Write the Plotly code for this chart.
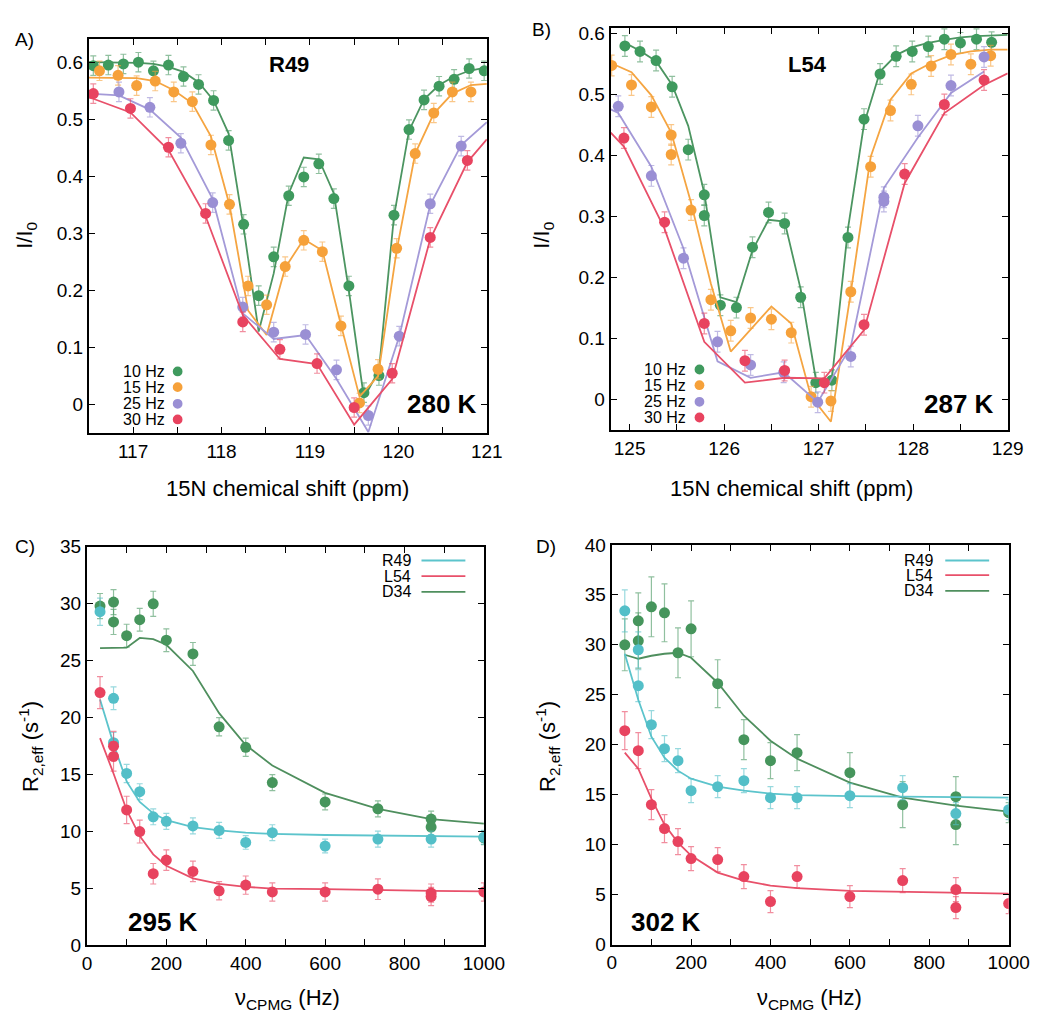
import plotly.graph_objects as go

# ---------------- Panel A: R49, 280 K (I/I0 vs 15N offset) ----------------
A_g_x = [116.55, 116.72, 116.89, 117.06, 117.23, 117.40, 117.57, 117.74, 117.91, 118.08, 118.25, 118.42, 118.59, 118.76,
         118.93, 119.10, 119.27, 119.44, 119.61, 119.78, 119.95, 120.12, 120.29, 120.46, 120.63, 120.80, 120.97]
A_g_y = [0.594, 0.595, 0.597, 0.600, 0.585, 0.595, 0.575, 0.561, 0.533, 0.463, 0.316, 0.191, 0.259, 0.366,
         0.399, 0.422, 0.361, 0.208, 0.021, 0.051, 0.332, 0.482, 0.534, 0.558, 0.570, 0.589, 0.585]
A_g_fx = [116.5] + A_g_x + [121.0]
A_g_fy = [0.600, 0.600, 0.600, 0.600, 0.599, 0.597, 0.592, 0.583, 0.565, 0.533, 0.475, 0.31, 0.128, 0.23, 0.37,
          0.433, 0.430, 0.37, 0.20, 0.012, 0.06, 0.33, 0.48, 0.535, 0.56, 0.575, 0.585, 0.59, 0.59]

A_o_x = [116.62, 116.83, 117.04, 117.25, 117.46, 117.67, 117.88, 118.09, 118.30, 118.51, 118.72, 118.93, 119.14,
         119.35, 119.56, 119.77, 119.98, 120.19, 120.40, 120.61, 120.82]
A_o_y = [0.585, 0.577, 0.559, 0.567, 0.548, 0.531, 0.455, 0.351, 0.208, 0.175, 0.242, 0.288, 0.268,
         0.138, 0.003, 0.062, 0.274, 0.440, 0.511, 0.548, 0.548]
A_o_fx = [116.5] + A_o_x + [121.0]
A_o_fy = [0.573, 0.573, 0.573, 0.572, 0.567, 0.551, 0.528, 0.47, 0.35, 0.165, 0.122, 0.24, 0.29, 0.27,
          0.14, 0.014, 0.05, 0.27, 0.44, 0.51, 0.545, 0.56, 0.562]

A_p_x = [116.84, 117.19, 117.54, 117.90, 118.24, 118.59, 118.95, 119.30, 119.66, 120.01, 120.36, 120.71]
A_p_y = [0.548, 0.521, 0.458, 0.354, 0.171, 0.127, 0.123, 0.061, -0.019, 0.120, 0.352, 0.453]
A_p_fx = [116.5] + A_p_x + [121.0]
A_p_fy = [0.545, 0.542, 0.517, 0.468, 0.36, 0.16, 0.115, 0.122, 0.045, -0.048, 0.12, 0.35, 0.455, 0.495]

A_r_x = [116.55, 116.97, 117.40, 117.82, 118.24, 118.66, 119.08, 119.50, 119.93, 120.36, 120.78]
A_r_y = [0.545, 0.519, 0.451, 0.335, 0.145, 0.097, 0.072, -0.005, 0.055, 0.293, 0.428]
A_r_fx = [116.5] + A_r_x + [121.0]
A_r_fy = [0.538, 0.536, 0.512, 0.446, 0.33, 0.157, 0.08, 0.071, -0.035, 0.045, 0.29, 0.425, 0.465]

# ---------------- Panel B: L54, 287 K ----------------
B_g_x = [124.95, 125.11, 125.28, 125.45, 125.62, 125.79, 125.79, 125.96, 126.13, 126.30, 126.47, 126.64, 126.81,
         126.97, 127.14, 127.31, 127.48, 127.65, 127.82, 127.99, 128.16, 128.33, 128.50, 128.67, 128.83]
B_g_y = [0.580, 0.571, 0.556, 0.513, 0.410, 0.336, 0.302, 0.155, 0.151, 0.250, 0.307, 0.289, 0.168,
         0.028, 0.032, 0.266, 0.460, 0.534, 0.563, 0.571, 0.579, 0.591, 0.585, 0.591, 0.586]
B_g_fx = [124.95, 125.11, 125.28, 125.45, 125.62, 125.79, 125.96, 126.13, 126.30, 126.47, 126.64, 126.81, 126.97,
          127.14, 127.31, 127.48, 127.65, 127.82, 127.99, 128.16, 128.33, 128.50, 128.67, 128.83, 129.0]
B_g_fy = [0.585, 0.572, 0.555, 0.516, 0.449, 0.339, 0.168, 0.16, 0.245, 0.295, 0.292, 0.181, 0.034,
          0.034, 0.28, 0.452, 0.538, 0.565, 0.578, 0.585, 0.59, 0.594, 0.596, 0.597, 0.598]

B_o_x = [124.81, 125.02, 125.23, 125.44, 125.44, 125.65, 125.86, 126.07, 126.28, 126.50, 126.71, 126.92, 127.13,
         127.34, 127.55, 127.76, 127.98, 128.19, 128.40, 128.61, 128.82]
B_o_y = [0.548, 0.516, 0.480, 0.434, 0.402, 0.311, 0.164, 0.113, 0.134, 0.132, 0.110, 0.005, -0.002,
         0.177, 0.382, 0.474, 0.517, 0.547, 0.566, 0.550, 0.564]
B_o_fx = [124.8, 125.02, 125.23, 125.44, 125.65, 125.86, 126.07, 126.28, 126.50, 126.71, 126.92, 127.13,
          127.34, 127.55, 127.76, 127.98, 128.19, 128.40, 128.61, 128.82, 129.0]
B_o_fy = [0.552, 0.537, 0.499, 0.438, 0.323, 0.19, 0.079, 0.116, 0.153, 0.125, 0.005, -0.036,
          0.176, 0.398, 0.492, 0.535, 0.552, 0.565, 0.571, 0.574, 0.574]

B_p_x = [124.88, 125.23, 125.57, 125.93, 126.28, 126.63, 126.99, 127.34, 127.69, 127.69, 128.05, 128.40, 128.75]
B_p_y = [0.481, 0.367, 0.232, 0.095, 0.057, 0.045, -0.004, 0.071, 0.332, 0.325, 0.449, 0.515, 0.562]
B_p_fx = [124.8, 124.88, 125.23, 125.57, 125.93, 126.28, 126.63, 126.99, 127.34, 127.69, 128.05, 128.40, 128.75]
B_p_fy = [0.476, 0.47, 0.382, 0.248, 0.063, 0.036, 0.045, -0.004, 0.087, 0.347, 0.43, 0.503, 0.538]

B_r_x = [124.94, 125.37, 125.79, 126.22, 126.64, 127.06, 127.48, 127.91, 128.33, 128.75]
B_r_y = [0.429, 0.291, 0.125, 0.064, 0.048, 0.028, 0.123, 0.370, 0.484, 0.524]
B_r_fx = [124.8, 124.94, 125.37, 125.79, 126.22, 126.64, 127.06, 127.48, 127.91, 128.33, 128.75, 129.0]
B_r_fy = [0.438, 0.415, 0.28, 0.095, 0.028, 0.036, 0.035, 0.114, 0.355, 0.47, 0.516, 0.535]

CEST_ERR = 0.017

# ---------------- Panels C/D: CPMG dispersion ----------------
nu_fit = [33, 67, 100, 133, 167, 200, 267, 333, 400, 467, 600, 733, 867, 1000]

C_D34_x = [33, 67, 67, 100, 133, 167, 200, 267, 333, 400, 467, 600, 733, 867, 867, 1000]
C_D34_y = [29.8, 30.15, 28.4, 27.2, 28.6, 30.0, 26.8, 25.6, 19.2, 17.4, 14.3, 12.6, 12.0, 11.1, 10.4, 9.45]
C_D34_e = [1.1, 1.1, 1.1, 1.0, 1.0, 1.1, 1.0, 1.0, 0.8, 0.8, 0.7, 0.7, 0.7, 0.7, 0.7, 0.6]
C_R49_x = [33, 67, 67, 100, 133, 167, 200, 267, 333, 400, 467, 600, 733, 867, 1000]
C_R49_y = [29.3, 21.7, 17.8, 15.1, 13.5, 11.3, 10.9, 10.5, 10.1, 9.05, 9.9, 8.73, 9.34, 9.34, 9.5]
C_R49_e = [1.2, 1.0, 0.9, 0.8, 0.7, 0.7, 0.7, 0.7, 0.7, 0.6, 0.7, 0.6, 0.7, 0.7, 0.6]
C_L54_x = [33, 67, 67, 100, 133, 167, 200, 267, 333, 400, 467, 600, 733, 867, 867, 1000]
C_L54_y = [22.2, 17.5, 16.6, 11.9, 10.0, 6.3, 7.5, 6.5, 4.8, 5.3, 4.7, 4.7, 4.94, 4.6, 4.3, 4.7]
C_L54_e = [1.4, 1.3, 1.3, 1.2, 1.0, 0.9, 0.9, 0.9, 0.8, 0.8, 0.8, 0.8, 0.9, 0.8, 0.8, 0.8]
C_D34_fit = [26.1, 26.15, 26.15, 27.0, 26.9, 26.4, 24.1, 20.4, 17.6, 15.8, 13.4, 12.0, 11.1, 10.7]
C_R49_fit = [21.6, 17.7, 14.4, 12.6, 11.6, 11.0, 10.4, 10.1, 9.9, 9.8, 9.7, 9.65, 9.6, 9.55]
C_L54_fit = [18.2, 15.1, 11.9, 9.6, 8.0, 7.0, 5.9, 5.4, 5.15, 5.0, 4.95, 4.85, 4.8, 4.75]

D_D34_x = [33, 67, 67, 100, 133, 167, 200, 267, 333, 400, 467, 600, 733, 867, 867, 1000]
D_D34_y = [30.0, 32.4, 30.4, 33.8, 33.2, 29.2, 31.6, 26.1, 20.5, 18.4, 19.2, 17.2, 14.0, 14.8, 12.0, 13.2]
D_D34_e = [2.6, 2.8, 2.8, 3.0, 2.9, 2.5, 2.8, 2.4, 2.0, 1.8, 1.8, 2.0, 2.3, 2.0, 2.0, 1.0]
D_R49_x = [33, 67, 67, 100, 133, 167, 200, 267, 333, 400, 467, 600, 733, 867, 1000]
D_R49_y = [33.4, 29.5, 25.9, 22.0, 19.6, 18.4, 15.4, 15.8, 16.4, 14.7, 14.7, 14.9, 15.7, 13.1, 13.5]
D_R49_e = [2.1, 1.8, 1.6, 1.4, 1.3, 1.2, 1.2, 1.1, 1.2, 1.1, 1.1, 1.2, 1.2, 1.1, 1.0]
D_L54_x = [33, 67, 100, 133, 167, 200, 267, 333, 400, 467, 600, 733, 867, 867, 1000]
D_L54_y = [21.4, 19.4, 14.0, 11.6, 10.3, 8.6, 8.5, 6.8, 4.3, 6.8, 4.8, 6.4, 5.5, 3.7, 4.1]
D_L54_e = [1.9, 1.8, 1.5, 1.4, 1.3, 1.2, 1.2, 1.2, 1.1, 1.1, 1.1, 1.2, 1.2, 1.1, 1.0]
D_D34_fit = [29.0, 28.6, 28.9, 29.1, 29.2, 28.7, 26.2, 22.9, 20.4, 18.6, 16.2, 14.7, 13.9, 13.3]
D_R49_fit = [29.1, 24.5, 20.8, 18.7, 17.4, 16.6, 15.8, 15.4, 15.1, 14.95, 14.85, 14.8, 14.75, 14.7]
D_L54_fit = [19.2, 17.6, 14.6, 12.0, 10.2, 8.9, 7.2, 6.4, 5.9, 5.65, 5.36, 5.25, 5.15, 5.1]

CEST_LABELS = ["10 Hz", "15 Hz", "25 Hz", "30 Hz"]
CPMG_LABELS = ["R49", "L54", "D34"]

# colours: (marker, line, error bar)
GREEN = ("#3f9a5e", "#4c9561", "rgba(70,150,95,0.6)")
ORANGE = ("#f6a13a", "#f5a542", "rgba(246,161,58,0.6)")
PURPLE = ("#9a8fd4", "#a49ad8", "rgba(150,140,210,0.6)")
RED = ("#e8435f", "#e8506a", "rgba(232,67,95,0.6)")
CYAN = ("#53bfc8", "#5cc4cc", "rgba(83,191,200,0.6)")
DGREEN = ("#46955c", "#4f8f5e", "rgba(70,150,95,0.6)")

FONT = "Arial, Liberation Sans, sans-serif"
fig = go.Figure()


def add_series(xa, ya, px, py, err, fx, fy, col, msize=11):
    fig.add_trace(go.Scatter(x=fx, y=fy, mode="lines", line=dict(color=col[1], width=1.8),
                             xaxis=xa, yaxis=ya, hoverinfo="skip"))
    ev = err if isinstance(err, list) else [err] * len(px)
    fig.add_trace(go.Scatter(x=px, y=py, mode="markers",
                             marker=dict(color=col[0], size=msize, line=dict(width=0)),
                             error_y=dict(type="data", array=ev, visible=True, color=col[2],
                                          thickness=1.2, width=3),
                             xaxis=xa, yaxis=ya))


add_series("x", "y", A_g_x, A_g_y, CEST_ERR, A_g_fx, A_g_fy, GREEN)
add_series("x", "y", A_o_x, A_o_y, CEST_ERR, A_o_fx, A_o_fy, ORANGE)
add_series("x", "y", A_p_x, A_p_y, CEST_ERR, A_p_fx, A_p_fy, PURPLE)
add_series("x", "y", A_r_x, A_r_y, CEST_ERR, A_r_fx, A_r_fy, RED)

add_series("x2", "y2", B_g_x, B_g_y, CEST_ERR, B_g_fx, B_g_fy, GREEN)
add_series("x2", "y2", B_o_x, B_o_y, CEST_ERR, B_o_fx, B_o_fy, ORANGE)
add_series("x2", "y2", B_p_x, B_p_y, CEST_ERR, B_p_fx, B_p_fy, PURPLE)
add_series("x2", "y2", B_r_x, B_r_y, CEST_ERR, B_r_fx, B_r_fy, RED)

add_series("x3", "y3", C_D34_x, C_D34_y, C_D34_e, nu_fit, C_D34_fit, DGREEN)
add_series("x3", "y3", C_R49_x, C_R49_y, C_R49_e, nu_fit, C_R49_fit, CYAN)
add_series("x3", "y3", C_L54_x, C_L54_y, C_L54_e, nu_fit, C_L54_fit, RED)

add_series("x4", "y4", D_D34_x, D_D34_y, D_D34_e, nu_fit, D_D34_fit, DGREEN)
add_series("x4", "y4", D_R49_x, D_R49_y, D_R49_e, nu_fit, D_R49_fit, CYAN)
add_series("x4", "y4", D_L54_x, D_L54_y, D_L54_e, nu_fit, D_L54_fit, RED)

W, H = 1056, 1028


def px(x):
    return x / W


def py(y):
    return 1 - y / H


axis_common = dict(showline=True, linecolor="black", linewidth=2, mirror="ticks", ticks="inside",
                   ticklen=6, tickwidth=1.3, tickcolor="black", showgrid=False, zeroline=False,
                   tickfont=dict(family=FONT, size=19, color="black"))
minor_half = dict(ticks="inside", ticklen=6, tickwidth=1.3, tickcolor="black", showgrid=False)

# panel boxes in pixels: (left, right, top, bottom)
boxA = (86, 494, 30, 432)
boxB = (621, 1028, 18, 429)
boxC = (84, 491, 548, 955)
boxD = (622, 1029, 546, 954)


def dom(b):
    return dict(x=[px(b[0]), px(b[1])], y=[py(b[3]), py(b[2])])


dA, dB, dC, dD = dom(boxA), dom(boxB), dom(boxC), dom(boxD)

fig.update_layout(
    width=W, height=H, margin=dict(l=0, r=0, t=0, b=0),
    paper_bgcolor="white", plot_bgcolor="white", showlegend=False,
    font=dict(family=FONT, color="black"),
    xaxis=dict(domain=dA["x"], anchor="y", range=[116.5, 121], dtick=1, minor=dict(dtick=0.5, **minor_half), **axis_common),
    yaxis=dict(domain=dA["y"], anchor="x", range=[-0.05, 0.64], dtick=0.1, **axis_common),
    xaxis2=dict(domain=dB["x"], anchor="y2", range=[124.8, 129], dtick=1, minor=dict(dtick=0.5, **minor_half), **axis_common),
    yaxis2=dict(domain=dB["y"], anchor="x2", range=[-0.05, 0.61], dtick=0.1, **axis_common),
    xaxis3=dict(domain=dC["x"], anchor="y3", range=[0, 1000], dtick=200, minor=dict(dtick=100, **minor_half), **axis_common),
    yaxis3=dict(domain=dC["y"], anchor="x3", range=[0, 35], dtick=5, **axis_common),
    xaxis4=dict(domain=dD["x"], anchor="y4", range=[0, 1000], dtick=200, minor=dict(dtick=100, **minor_half), **axis_common),
    yaxis4=dict(domain=dD["y"], anchor="x4", range=[0, 40], dtick=5, **axis_common),
)

ann = []


def text(x, y, s, size, bold=False, xanchor="center", angle=0):
    ann.append(dict(x=px(x), y=py(y), xref="paper", yref="paper", text=("<b>%s</b>" % s) if bold else s,
                    showarrow=False, xanchor=xanchor, yanchor="middle", textangle=angle,
                    font=dict(family=FONT, size=size, color="black")))


# panel letters
text(20, 30, "A)", 19)
text(550, 20, "B)", 19)
text(20, 548, "C)", 19)
text(555, 548, "D)", 19)

# residue and temperature tags
text(291, 56, "R49", 22, bold=True)
text(823, 56, "L54", 22, bold=True)
text(448, 402, "280 K", 26, bold=True)
text(978, 402, "287 K", 26, bold=True)
text(162, 931, "295 K", 26, bold=True)
text(678, 931, "302 K", 26, bold=True)

# axis titles
text(290, 488, "15N chemical shift (ppm)", 22)
text(806, 488, "15N chemical shift (ppm)", 22)
text(22, 230, "I/I<sub>0</sub>", 22, angle=-90)
text(552, 230, "I/I<sub>0</sub>", 22, angle=-90)
text(290, 1010, "ν<sub>CPMG</sub> (Hz)", 22)
text(825, 1010, "ν<sub>CPMG</sub> (Hz)", 22)
text(26, 752, "R<sub>2,eff</sub> (s<sup>-1</sup>)", 22, angle=-90)
text(556, 752, "R<sub>2,eff</sub> (s<sup>-1</sup>)", 22, angle=-90)

shapes = []

# key for the CEST panels: label text followed by a dot
cest_cols = [GREEN, ORANGE, PURPLE, RED]
for (tx, dotx, ys) in [(166, 177, [369, 385, 402, 418]), (700, 712, [367, 383, 400, 416])]:
    for lab, col, yy in zip(CEST_LABELS, cest_cols, ys):
        text(tx, yy, lab, 16, xanchor="right")
        shapes.append(dict(type="circle", xref="paper", yref="paper",
                           x0=px(dotx - 5), x1=px(dotx + 5), y0=py(yy + 5), y1=py(yy - 5),
                           fillcolor=col[0], line=dict(width=0)))

# key for the CPMG panels: label text followed by a line sample
cpmg_cols = [CYAN, RED, DGREEN]
for (tx, lx0, lx1, ys) in [(418, 427, 472, [562, 578, 594]), (953, 964, 1009, [562, 577, 593])]:
    for lab, col, yy in zip(CPMG_LABELS, cpmg_cols, ys):
        text(tx, yy, lab, 16, xanchor="right")
        shapes.append(dict(type="line", xref="paper", yref="paper",
                           x0=px(lx0), x1=px(lx1), y0=py(yy), y1=py(yy),
                           line=dict(color=col[1], width=1.8)))

fig.update_layout(annotations=ann, shapes=shapes)

# the page body keeps no default margin, so the figure sits flush in the window
fig.write_html("out.html",
               post_script="document.body.style.margin='0';document.body.style.padding='0';"
                           "document.documentElement.style.overflow='hidden';")
